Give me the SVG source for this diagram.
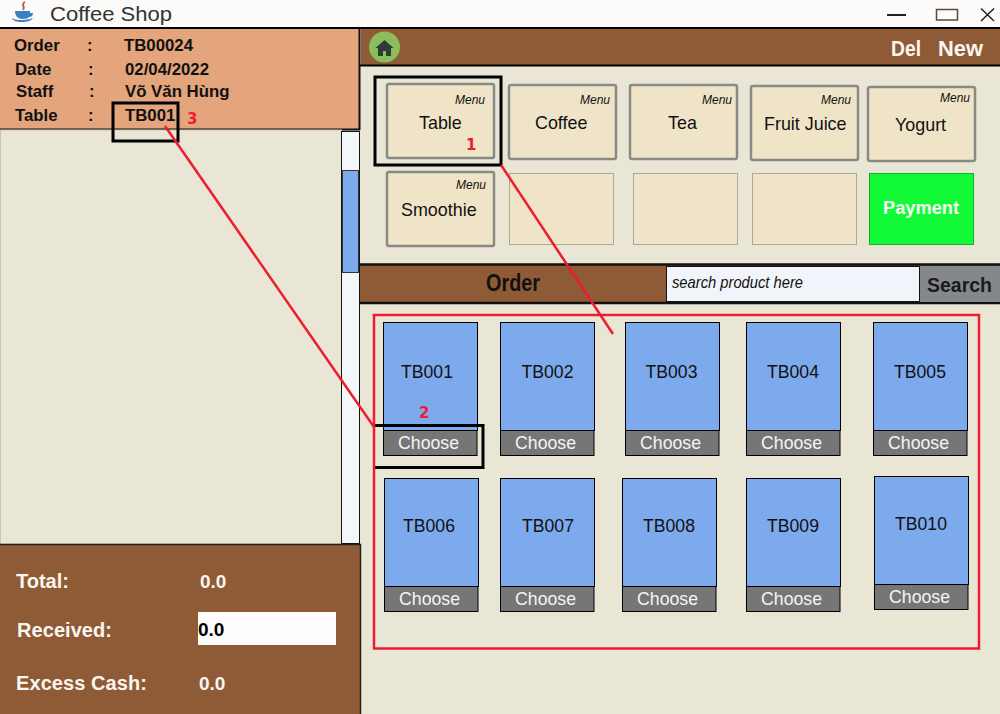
<svg xmlns="http://www.w3.org/2000/svg" width="1000" height="714" viewBox="0 0 1000 714">
<style>
text{font-family:"Liberation Sans",Arial,sans-serif}
.h{font-size:16.8px;font-weight:bold;fill:#111}
.m{font-size:12px;font-style:italic;fill:#111}
.l{font-size:17.9px;fill:#111}
.btn{fill:#F0E4C8;stroke:#8A8A84;stroke-width:2.5}
.emp{fill:#F0E4C8;stroke:#AFA792;stroke-width:1}
.card{fill:#7DAAEC;stroke:#000;stroke-width:1}
.ch{fill:#767676;stroke:#000;stroke-width:1}
.cht{font-size:17.7px;fill:#F4F4F4;text-anchor:middle}
.tb{font-size:17.6px;fill:#111;text-anchor:middle}
.w{font-size:20px;font-weight:bold;fill:#FAF6F0}
.v{font-size:19px;font-weight:bold;fill:#FAF6F0}
.num{font-family:"DejaVu Sans",sans-serif;font-size:15px;font-weight:bold;fill:#EE1C2E}
.blk{fill:none;stroke:#000;stroke-width:3}
.red{fill:none;stroke:#EE1C2E;stroke-width:2.500}
</style>
<rect width="1000" height="714" fill="#E9E6D6"/>
<g id="titlebar">
<rect width="1000" height="28" fill="#FCFBF9"/>
<path d="M15 11h15v2h3c0 3-2 4-4 4-1 1-3 2-6 2-5 0-8-3-8-8z" fill="#3B7FC4"/>
<path d="M12 18c3 2 7 2 9 2s6 0 12-2c-2 3-6 4-11 4s-9-1-10-4z" fill="#3B7FC4"/>
<path d="M25 2c-5 3 1 4-2 8" fill="none" stroke="#B5604A" stroke-width="2"/>
<text x="50" y="21" font-size="20" fill="#333" textLength="122" lengthAdjust="spacingAndGlyphs">Coffee Shop</text>
<path d="M887 15H906" stroke="#222" stroke-width="2"/>
<rect x="936.500" y="9.500" width="21" height="10.500" fill="none" stroke="#5A4A44" stroke-width="1.500"/>
<path d="M981 8.500L994 21M994 8.500L981 21" stroke="#222" stroke-width="1.500" fill="none"/>
<path d="M0 28H1000" stroke="#000" stroke-width="2"/>
</g>
<g id="order-info">
<rect x="0" y="29" width="360" height="101" fill="#E4A57C"/>
<path d="M0 129.500H360M359.500 29V130" stroke="#111" stroke-width="2" fill="none"/>
<text class="h" x="14" y="51">Order</text><text class="h" x="87" y="51">:</text><text class="h" x="124" y="51">TB00024</text>
<text class="h" x="15" y="75">Date</text><text class="h" x="88" y="75">:</text><text class="h" x="125" y="75">02/04/2022</text>
<text class="h" x="16" y="97">Staff</text><text class="h" x="89" y="97">:</text><text class="h" x="125" y="97">Võ Văn Hùng</text>
<text class="h" x="15" y="121">Table</text><text class="h" x="88" y="121">:</text><text class="h" x="125" y="121">TB001</text>
</g>
<g id="order-list">
<rect x="0.500" y="130" width="341" height="414" fill="#E9E6D6" stroke="#C9C6B6"/>
<rect x="341.500" y="131.500" width="18" height="412" fill="#F3F7F8" stroke="#111"/>
<rect x="342.500" y="170.500" width="16" height="102" fill="#7DAAEC" stroke="#333"/>
</g>
<g id="totals">
<rect x="0" y="545" width="360" height="169" fill="#8F5B36"/>
<path d="M0 544.500H360.500V714" fill="none" stroke="#222" stroke-width="1.500"/>
<text class="w" x="16" y="588">Total:</text><text class="v" x="200" y="588">0.0</text>
<text class="w" x="17" y="637" textLength="95">Received:</text>
<rect x="198" y="612" width="138" height="33" fill="#FFFEFC"/>
<text x="198" y="636" font-size="19" font-weight="bold" fill="#000">0.0</text>
<text class="w" x="16" y="690" textLength="131">Excess Cash:</text><text class="v" x="199" y="690">0.0</text>
</g>
<g id="top-bar">
<rect x="361" y="29" width="639" height="36" fill="#8F5B36"/>
<path d="M360 65.500H1000" stroke="#000" stroke-width="2"/>
<circle cx="384.500" cy="47" r="15.500" fill="#8BBE5B"/>
<path d="M384.500 40l-9 8h2.500v8h5v-5h3v5h5v-8h2.500z" fill="#2D3A36"/>
<text x="891" y="56" font-size="22" font-weight="bold" fill="#FAF6F0" textLength="30" lengthAdjust="spacingAndGlyphs">Del</text>
<text x="938" y="56" font-size="22" font-weight="bold" fill="#FAF6F0" textLength="45" lengthAdjust="spacingAndGlyphs">New</text>
</g>
<g id="menu-table"><rect class="btn" x="387" y="84" width="107" height="74" rx="2"/><text class="m" x="455" y="104">Menu</text><text class="l" x="419" y="129">Table</text></g>
<g id="menu-coffee"><rect class="btn" x="509" y="85" width="107" height="74" rx="2"/><text class="m" x="580" y="104">Menu</text><text class="l" x="535" y="129">Coffee</text></g>
<g id="menu-tea"><rect class="btn" x="630" y="85" width="107" height="74" rx="2"/><text class="m" x="702" y="104">Menu</text><text class="l" x="668" y="129">Tea</text></g>
<g id="menu-juice"><rect class="btn" x="751" y="86" width="107" height="74" rx="2"/><text class="m" x="821" y="104">Menu</text><text class="l" x="764" y="130">Fruit Juice</text></g>
<g id="menu-yogurt"><rect class="btn" x="868" y="87" width="107" height="74" rx="2"/><text class="m" x="940" y="102">Menu</text><text class="l" x="895" y="131">Yogurt</text></g>
<g id="menu-smoothie"><rect class="btn" x="387" y="172" width="107" height="74" rx="2"/><text class="m" x="456" y="189">Menu</text><text class="l" x="401" y="216">Smoothie</text></g>
<g id="empty-1"><rect class="emp" x="509.500" y="173.500" width="104" height="71"/></g>
<g id="empty-2"><rect class="emp" x="633.500" y="173.500" width="104" height="71"/></g>
<g id="empty-3"><rect class="emp" x="752.500" y="173.500" width="104" height="71"/></g>
<g id="payment"><rect x="869.500" y="173.500" width="104" height="71" fill="#12FA37" stroke="#0DB52C"/><text x="883" y="214" font-size="18" font-weight="bold" fill="#F8FCF4" textLength="76" lengthAdjust="spacingAndGlyphs">Payment</text></g>
<g id="order-bar">
<rect x="360" y="264" width="640" height="39" fill="#8F5B36"/>
<path d="M360 264.500H1000M360 303H1000" stroke="#111" stroke-width="2.500"/>
<text x="486" y="291" font-size="23" font-weight="bold" fill="#111" textLength="54" lengthAdjust="spacingAndGlyphs">Order</text>
<rect x="666.500" y="266.500" width="253" height="35" fill="#F1F4FA" stroke="#111"/>
<text x="672" y="288" font-size="17" font-style="italic" fill="#111" textLength="131" lengthAdjust="spacingAndGlyphs">search product here</text>
<rect x="920" y="266" width="80" height="36" fill="#84878C"/>
<text x="927" y="292" font-size="21" font-weight="bold" fill="#1A1A1A" textLength="65" lengthAdjust="spacingAndGlyphs">Search</text>
</g>
<g id="tb001"><rect class="card" x="383.500" y="322.500" width="94" height="108"/><rect class="ch" x="383.500" y="430.500" width="93.500" height="25"/><text class="tb" x="427" y="378">TB001</text><text class="cht" x="428.500" y="449">Choose</text></g>
<g id="tb002"><rect class="card" x="500.500" y="322.500" width="94" height="108"/><rect class="ch" x="500.500" y="430.500" width="93.500" height="25"/><text class="tb" x="547.500" y="378">TB002</text><text class="cht" x="545.500" y="449">Choose</text></g>
<g id="tb003"><rect class="card" x="625.500" y="322.500" width="94" height="108"/><rect class="ch" x="625.500" y="430.500" width="93.500" height="25"/><text class="tb" x="671.500" y="378">TB003</text><text class="cht" x="670.500" y="449">Choose</text></g>
<g id="tb004"><rect class="card" x="746.500" y="322.500" width="94" height="108"/><rect class="ch" x="746.500" y="430.500" width="93.500" height="25"/><text class="tb" x="793" y="378">TB004</text><text class="cht" x="791.500" y="449">Choose</text></g>
<g id="tb005"><rect class="card" x="873.500" y="322.500" width="94" height="108"/><rect class="ch" x="873.500" y="430.500" width="93.500" height="25"/><text class="tb" x="920" y="378">TB005</text><text class="cht" x="918.500" y="449">Choose</text></g>
<g id="tb006"><rect class="card" x="384.500" y="478.500" width="94" height="108"/><rect class="ch" x="384.500" y="586.500" width="93.500" height="25"/><text class="tb" x="429" y="532">TB006</text><text class="cht" x="429.500" y="605">Choose</text></g>
<g id="tb007"><rect class="card" x="500.500" y="478.500" width="94" height="108"/><rect class="ch" x="500.500" y="586.500" width="93.500" height="25"/><text class="tb" x="548" y="532">TB007</text><text class="cht" x="545.500" y="605">Choose</text></g>
<g id="tb008"><rect class="card" x="622.500" y="478.500" width="94" height="108"/><rect class="ch" x="622.500" y="586.500" width="93.500" height="25"/><text class="tb" x="669" y="532">TB008</text><text class="cht" x="667.500" y="605">Choose</text></g>
<g id="tb009"><rect class="card" x="746.500" y="478.500" width="94" height="108"/><rect class="ch" x="746.500" y="586.500" width="93.500" height="25"/><text class="tb" x="793" y="532">TB009</text><text class="cht" x="791.500" y="605">Choose</text></g>
<g id="tb010"><rect class="card" x="874.500" y="476.500" width="94" height="108"/><rect class="ch" x="874.500" y="584.500" width="93.500" height="25"/><text class="tb" x="921" y="530">TB010</text><text class="cht" x="919.500" y="603">Choose</text></g>
<g id="annotations">
<path class="blk" d="M375 77H501V165H375Z"/>
<path class="blk" d="M113 103H178V141H113Z"/>
<path class="blk" d="M375 425.500H483V467.500H375"/>
<rect class="red" x="374" y="315" width="605" height="333.500"/>
<text class="num" x="466" y="150">1</text>
<text class="num" x="419" y="418">2</text>
<text class="num" x="187" y="124">3</text>
</g>
<g id="connectors">
<path class="red" d="M501 165L613 334"/>
<path class="red" d="M165 126L374 427"/>
</g>
</svg>
